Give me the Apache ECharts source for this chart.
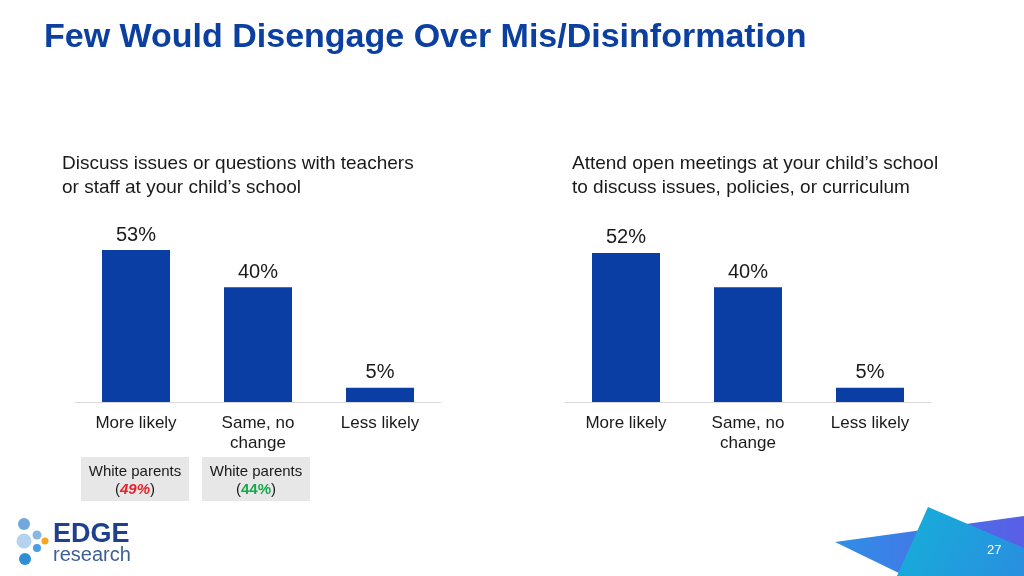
<!DOCTYPE html>
<html><head><meta charset="utf-8">
<script src="https://cdn.jsdelivr.net/npm/echarts@6/dist/echarts.min.js"></script>
<style>html,body{margin:0;padding:0;background:#fff}#c{width:1024px;height:576px}</style>
</head><body><div id="c"></div>
<script>
const titleText = 'Few Would Disengage Over Mis/Disinformation';
const categories = ['More likely', 'Same, no\nchange', 'Less likely'];
const leftTitle = 'Discuss issues or questions with teachers\nor staff at your child’s school';
const rightTitle = 'Attend open meetings at your child’s school\nto discuss issues, policies, or curriculum';
const leftValues = [53, 40, 5];
const rightValues = [52, 40, 5];
const notes = [['White parents', '49%', 'red'], ['White parents', '44%', 'green']];
const pageNumber = '27';

const BAR = '#0a3ea4';
const font = '"Liberation Sans", Arial, sans-serif';
const chart = echarts.init(document.getElementById('c'));

function xAxis(gi) {
  return {
    type: 'category', gridIndex: gi, data: categories,
    axisTick: {show: false},
    axisLine: {lineStyle: {color: '#d9d9d9', width: 1}},
    axisLabel: {color: '#1a1a1a', fontSize: 17, fontFamily: font, margin: 11, lineHeight: 20, interval: 0}
  };
}
function yAxis(gi) {
  return {type: 'value', gridIndex: gi, min: 0, max: 60, show: false, splitLine: {show: false}};
}
function series(i, vals) {
  return {
    type: 'bar', xAxisIndex: i, yAxisIndex: i, data: vals, barWidth: 68,
    itemStyle: {color: BAR},
    label: {show: true, position: 'top', distance: 5, formatter: '{c}%', color: '#1a1a1a', fontSize: 20, fontFamily: font}
  };
}

const g = [];
g.push({type: 'text', left: 62, top: 152, style: {text: leftTitle, fill: '#1a1a1a', font: '19px ' + font, lineHeight: 24}});
g.push({type: 'text', left: 572, top: 152, style: {text: rightTitle, fill: '#1a1a1a', font: '19px ' + font, lineHeight: 24}});
const boxX = [81, 202];
notes.forEach((n, i) => {
  g.push({type: 'rect', shape: {x: boxX[i], y: 457, width: 108, height: 44}, style: {fill: '#e7e7e7'}});
  g.push({type: 'text', x: boxX[i] + 54, y: 463, style: {
    text: n[0] + '\n({v|' + n[1] + '})', fill: '#1a1a1a', font: '15px ' + font, lineHeight: 18, align: 'center',
    rich: {v: n[2] === 'red'
      ? {fill: '#e8202a', fontStyle: 'italic', fontWeight: 'bold', fontSize: 15, fontFamily: font}
      : {fill: '#17a84a', fontWeight: 'bold', fontSize: 15, fontFamily: font}}
  }});
});
// decorative shapes bottom right
g.push({type: 'polygon', shape: {points: [[835, 542], [1024, 516], [1024, 576], [905, 576]]},
  style: {fill: new echarts.graphic.LinearGradient(0, 0, 1, 0, [{offset: 0, color: '#2f8fe6'}, {offset: 1, color: '#5a5ee6'}])}});
g.push({type: 'polygon', shape: {points: [[928, 507], [1024, 548], [1024, 576], [897, 576]]},
  style: {fill: new echarts.graphic.LinearGradient(0, 0, 1, 1, [{offset: 0, color: '#14b0d8'}, {offset: 1, color: '#2a8ee0'}])}});
g.push({type: 'text', x: 987, y: 544, style: {text: pageNumber, fill: '#ffffff', font: '13px ' + font}});
// logo
const dots = [[24, 524, 6, '#6fa8dc'], [24, 541, 7.5, '#b5d3ee'], [37, 535, 4.5, '#8ab7e2'], [45, 541, 3.5, '#f5a623'], [37, 548, 4, '#4a9de0'], [25, 559, 6, '#2f8fd6']];
dots.forEach(d => g.push({type: 'circle', shape: {cx: d[0], cy: d[1], r: d[2]}, style: {fill: d[3]}}));
g.push({type: 'text', x: 53, y: 521, style: {text: 'EDGE', fill: '#1f3f8f', font: 'bold 27px ' + font}});
g.push({type: 'text', x: 53, y: 545, style: {text: 'research', fill: '#3f5f95', font: '20px ' + font}});

chart.setOption({
  animation: false,
  title: {text: titleText, left: 39, top: 16, textStyle: {color: '#0b3fa0', fontSize: 34, fontWeight: 'bold', fontFamily: font}},
  grid: [{left: 75, width: 366, top: 230, height: 172}, {left: 565, width: 366, top: 230, height: 172}],
  xAxis: [xAxis(0), xAxis(1)],
  yAxis: [yAxis(0), yAxis(1)],
  series: [series(0, leftValues), series(1, rightValues)],
  graphic: g
});
</script></body></html>
